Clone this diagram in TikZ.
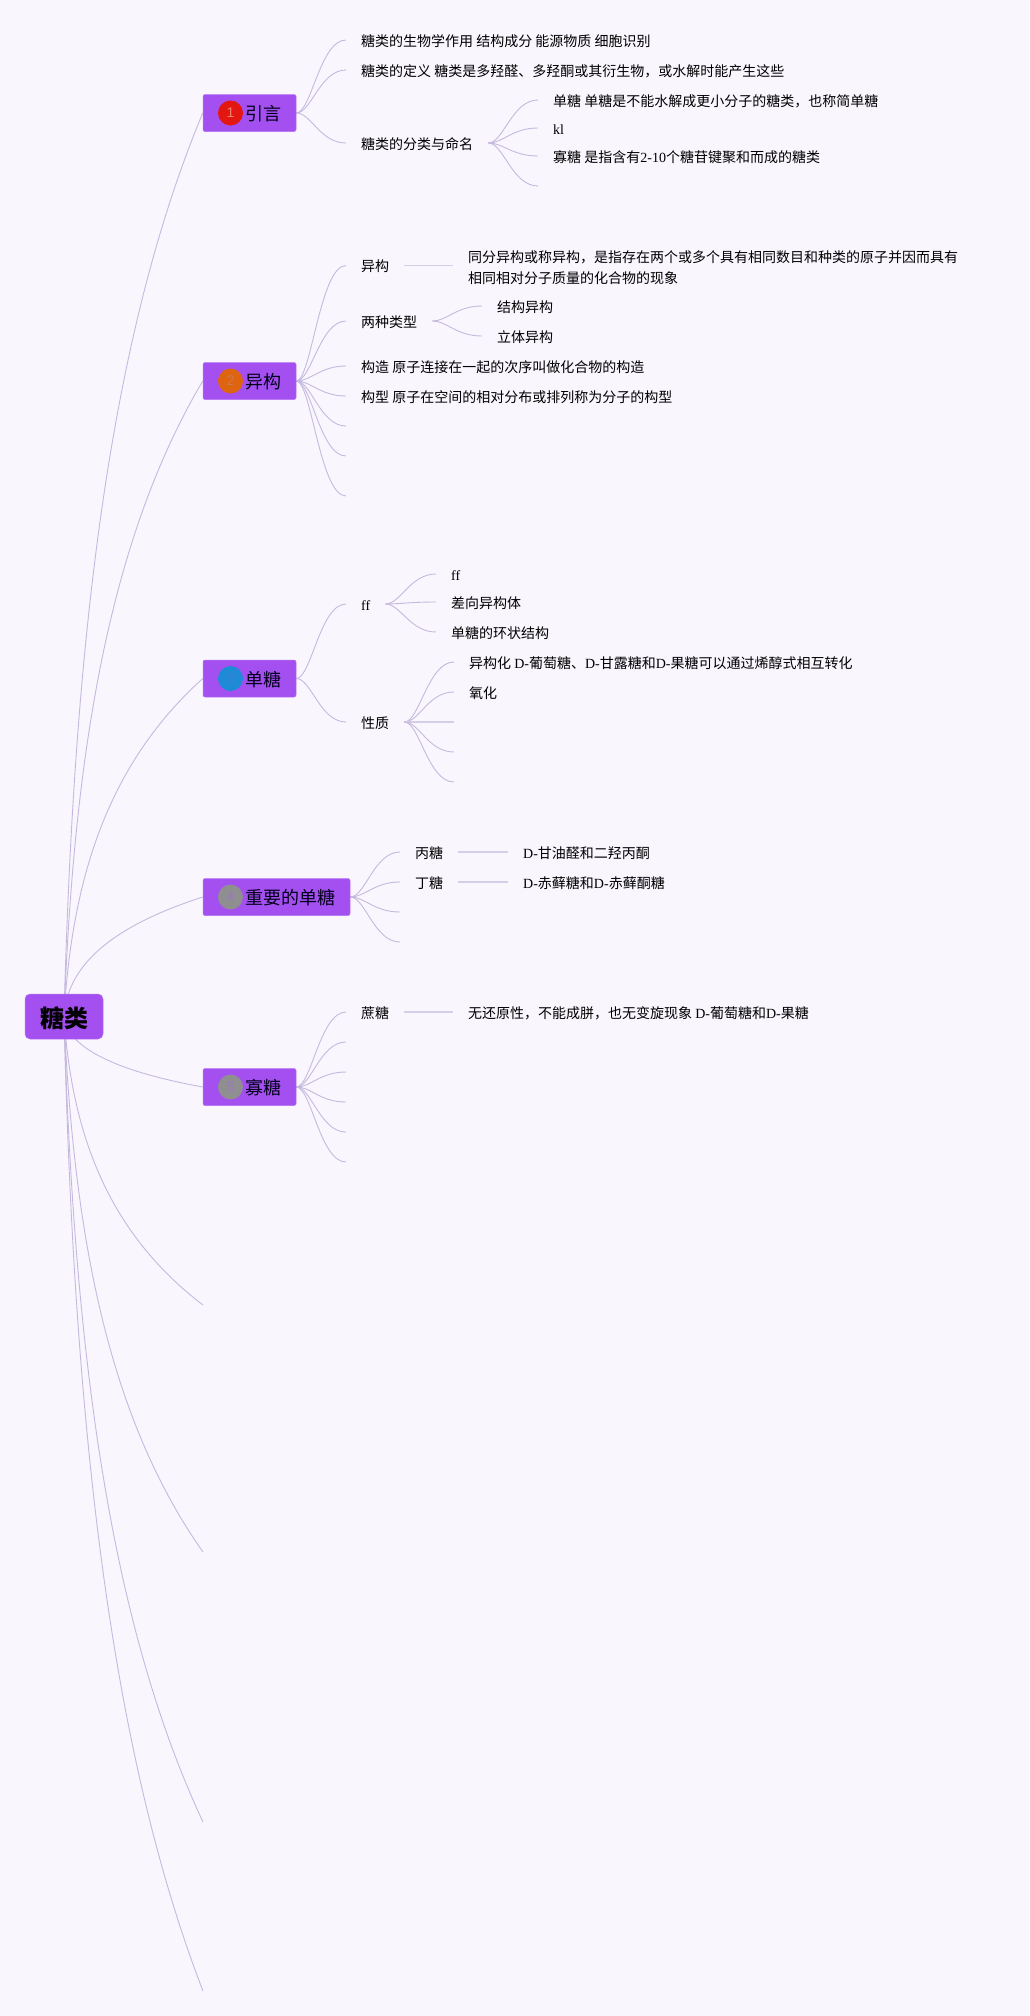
\documentclass[tikz,border=0pt]{standalone}
\usepackage{fontspec}
\setmainfont{Liberation Serif}
\newfontfamily\cjk{Noto Sans CJK SC}
\newfontfamily\digitfont{Liberation Sans}
\usetikzlibrary{backgrounds}
\definecolor{paper}{HTML}{F9F6FE}
\definecolor{violet}{HTML}{A44FF0}
\definecolor{edge}{HTML}{B675F5}
\definecolor{wire}{HTML}{C6B9DE}
\definecolor{stub}{HTML}{D6CEE8}
\definecolor{badgeone}{HTML}{E3170F}
\definecolor{badgetwo}{HTML}{DF6410}
\definecolor{badgethree}{HTML}{1E8BD6}
\definecolor{badgegray}{HTML}{8F8F8F}
\definecolor{digitone}{HTML}{F08070}
\definecolor{digittwo}{HTML}{D0784E}
\definecolor{digitthree}{HTML}{3E7FDC}
\definecolor{digitgray}{HTML}{9B78C4}
\newcommand{\lat}[1]{{\rmfamily #1}}
\tikzset{
  rootbox/.style={rectangle,rounded corners=5pt,fill=violet,draw=edge,line width=.5pt,minimum width=78pt,minimum height=45pt,inner sep=0pt,text height=21pt,text depth=0pt,font=\fontsize{24}{24}\selectfont\cjk\bfseries},
  topicbox/.style={rectangle,rounded corners=2pt,fill=violet,draw=edge,line width=.5pt,minimum height=37pt,inner sep=0pt},
  toptext/.style={anchor=west,inner sep=0pt,text=black!90!blue,font=\fontsize{18}{18}\selectfont\cjk},
  badge/.style={circle,minimum size=25pt,inner sep=0pt,font=\fontsize{14}{14}\selectfont\digitfont},
  leaf/.style={anchor=west,inner xsep=15pt,inner ysep=0pt,text height=12.6pt,text depth=0pt,font=\fontsize{14}{21}\selectfont\cjk},
  para/.style={anchor=west,inner xsep=15pt,inner ysep=0pt,align=left,font=\fontsize{14}{21}\selectfont\cjk},
  limb/.style={draw=wire,line width=.9pt},
  twig/.style={draw=wire,line width=.9pt},
  bar/.style={draw=stub,line width=1.2pt}
}
\begin{document}
\begin{tikzpicture}[x=1pt,y=-1pt]
\useasboundingbox (0,0) rectangle (1029,2016);
\begin{scope}[on background layer]
\fill[paper] (0,0) rectangle (1029,2016);
\end{scope}
% root and topics
\node[rootbox] (root) at (64,1016.5) {糖类};
\node[topicbox,minimum width=93pt] (t1) at (249.5,113) {};
\node[topicbox,minimum width=93pt] (t2) at (249.5,381) {};
\node[topicbox,minimum width=93pt] (t3) at (249.5,678.5) {};
\node[topicbox,minimum width=147pt] (t4) at (276.5,897) {};
\node[topicbox,minimum width=93pt] (t5) at (249.5,1087) {};
\node[badge,fill=badgeone,text=digitone] (b1) at (230.5,113) {1};
\node[badge,fill=badgetwo,text=digittwo] (b2) at (230.5,381) {2};
\node[badge,fill=badgethree,text=digitthree] (b3) at (230.5,678.5) {3};
\node[badge,fill=badgegray,text=digitgray] (b4) at (230.5,897) {4};
\node[badge,fill=badgegray,text=digitgray] (b5) at (230.5,1087) {5};
\node[toptext] (l1) at (245,114) {引言};
\node[toptext] (l2) at (245,382) {异构};
\node[toptext] (l3) at (245,680) {单糖};
\node[toptext] (l4) at (245,898) {重要的单糖};
\node[toptext] (l5) at (245,1088) {寡糖};
% free ends of the root
\coordinate (t6) at (203,1305);
\coordinate (t7) at (203,1552);
\coordinate (t8) at (203,1822);
\coordinate (t9) at (203,1991);

% first topic
\node[leaf] (a1) at (346,40) {糖类的生物学作用 结构成分 能源物质 细胞识别};
\node[leaf] (a2) at (346,70) {糖类的定义 糖类是多羟醛、多羟酮或其衍生物，或水解时能产生这些};
\node[leaf] (a3) at (346,143) {糖类的分类与命名};
\node[leaf] (a31) at (538,100) {单糖 单糖是不能水解成更小分子的糖类，也称简单糖};
\node[leaf] (a32) at (538,128) {\lat{kl}};
\node[leaf] (a33) at (538,156) {寡糖 是指含有\lat{2-10}个糖苷键聚和而成的糖类};
\coordinate (a34) at (538,186);

% second topic
\node[leaf] (c1) at (346,265.5) {异构};
\node[para] (c11) at (453,267.5) {同分异构或称异构，是指存在两个或多个具有相同数目和种类的原子并因而具有\\相同相对分子质量的化合物的现象};
\node[leaf] (c2) at (346,321) {两种类型};
\node[leaf] (c21) at (482,306) {结构异构};
\node[leaf] (c22) at (482,336) {立体异构};
\node[leaf] (c3) at (346,366) {构造 原子连接在一起的次序叫做化合物的构造};
\node[leaf] (c4) at (346,396) {构型 原子在空间的相对分布或排列称为分子的构型};
\coordinate (c5) at (346,426);
\coordinate (c6) at (346,456);
\coordinate (c7) at (346,496);

% third topic
\node[leaf] (d1) at (346,604) {\lat{ff}};
\node[leaf] (d11) at (436,574) {\lat{ff}};
\node[leaf] (d12) at (436,602) {差向异构体};
\node[leaf] (d13) at (436,632) {单糖的环状结构};
\node[leaf] (d2) at (346,722) {性质};
\node[leaf] (d21) at (454,662) {异构化 \lat{D-}葡萄糖、\lat{D-}甘露糖和\lat{D-}果糖可以通过烯醇式相互转化};
\node[leaf] (d22) at (454,692) {氧化};
\coordinate (d23) at (454,722);
\coordinate (d24) at (454,752);
\coordinate (d25) at (454,782);

% fourth topic
\node[leaf] (e1) at (400,852) {丙糖};
\node[leaf] (e11) at (508,852) {\lat{D-}甘油醛和二羟丙酮};
\node[leaf] (e2) at (400,882) {丁糖};
\node[leaf] (e21) at (508,882) {\lat{D-}赤藓糖和\lat{D-}赤藓酮糖};
\coordinate (e3) at (400,912);
\coordinate (e4) at (400,942);

% fifth topic
\node[leaf] (f1) at (346,1012) {蔗糖};
\node[leaf] (f11) at (453,1012) {无还原性，不能成胼，也无变旋现象 \lat{D-}葡萄糖和\lat{D-}果糖};
\coordinate (f2) at (346,1042);
\coordinate (f3) at (346,1072);
\coordinate (f4) at (346,1102);
\coordinate (f5) at (346,1132);
\coordinate (f6) at (346,1162);

\begin{scope}[on background layer]
% from the root
\draw[limb] (root.center) .. controls +(10,-380) and +(-93,223) .. (t1.west);
\draw[limb] (root.center) .. controls +(10,-267) and +(-93,157) .. (t2.west);
\draw[limb] (root.center) .. controls +(8,-142) and +(-93,84) .. (t3.west);
\draw[limb] (root.center) .. controls +(3,-50) and +(-93,30) .. (t4.west);
\draw[limb] (root.center) .. controls +(3,29) and +(-93,-17) .. (t5.west);
\draw[limb] (root.center) .. controls +(8,121) and +(-93,-71) .. (t6);
\draw[limb] (root.center) .. controls +(10,225) and +(-93,-132) .. (t7);
\draw[limb] (root.center) .. controls +(10,338) and +(-93,-199) .. (t8);
\draw[limb] (root.center) .. controls +(10,409) and +(-93,-241) .. (t9);
% first topic
\draw[twig] (t1.east) .. controls +(15,0) and +(-26,0) .. (a1.west);
\draw[twig] (t1.east) .. controls +(15,0) and +(-26,0) .. (a2.west);
\draw[twig] (t1.east) .. controls +(15,0) and +(-26,0) .. (a3.west);
\draw[twig] (a3.east) .. controls +(15,0) and +(-26,0) .. (a31.west);
\draw[twig] (a3.east) .. controls +(15,0) and +(-26,0) .. (a32.west);
\draw[twig] (a3.east) .. controls +(15,0) and +(-26,0) .. (a33.west);
\draw[twig] (a3.east) .. controls +(15,0) and +(-26,0) .. (a34);
% second topic
\draw[twig] (t2.east) .. controls +(15,0) and +(-26,0) .. (c1.west);
\draw[twig] (t2.east) .. controls +(15,0) and +(-26,0) .. (c2.west);
\draw[twig] (t2.east) .. controls +(15,0) and +(-26,0) .. (c3.west);
\draw[twig] (t2.east) .. controls +(15,0) and +(-26,0) .. (c4.west);
\draw[twig] (t2.east) .. controls +(15,0) and +(-26,0) .. (c5);
\draw[twig] (t2.east) .. controls +(15,0) and +(-26,0) .. (c6);
\draw[twig] (t2.east) .. controls +(15,0) and +(-26,0) .. (c7);
\draw[bar] (c1.east) -- (c1.east -| c11.west);
\draw[twig] (c2.east) .. controls +(15,0) and +(-26,0) .. (c21.west);
\draw[twig] (c2.east) .. controls +(15,0) and +(-26,0) .. (c22.west);
% third topic
\draw[twig] (t3.east) .. controls +(15,0) and +(-26,0) .. (d1.west);
\draw[twig] (t3.east) .. controls +(15,0) and +(-26,0) .. (d2.west);
\draw[twig] (d1.east) .. controls +(15,0) and +(-26,0) .. (d11.west);
\draw[twig] (d1.east) .. controls +(15,0) and +(-26,0) .. (d12.west);
\draw[twig] (d1.east) .. controls +(15,0) and +(-26,0) .. (d13.west);
\draw[twig] (d2.east) .. controls +(15,0) and +(-26,0) .. (d21.west);
\draw[twig] (d2.east) .. controls +(15,0) and +(-26,0) .. (d22.west);
\draw[bar] (d2.east) -- (d23);
\draw[twig] (d2.east) .. controls +(15,0) and +(-26,0) .. (d24);
\draw[twig] (d2.east) .. controls +(15,0) and +(-26,0) .. (d25);
% fourth topic
\draw[twig] (t4.east) .. controls +(15,0) and +(-26,0) .. (e1.west);
\draw[twig] (t4.east) .. controls +(15,0) and +(-26,0) .. (e2.west);
\draw[twig] (t4.east) .. controls +(15,0) and +(-26,0) .. (e3);
\draw[twig] (t4.east) .. controls +(15,0) and +(-26,0) .. (e4);
\draw[bar] (e1.east) -- (e11.west);
\draw[bar] (e2.east) -- (e21.west);
% fifth topic
\draw[twig] (t5.east) .. controls +(15,0) and +(-26,0) .. (f1.west);
\draw[twig] (t5.east) .. controls +(15,0) and +(-26,0) .. (f2);
\draw[twig] (t5.east) .. controls +(15,0) and +(-26,0) .. (f3);
\draw[twig] (t5.east) .. controls +(15,0) and +(-26,0) .. (f4);
\draw[twig] (t5.east) .. controls +(15,0) and +(-26,0) .. (f5);
\draw[twig] (t5.east) .. controls +(15,0) and +(-26,0) .. (f6);
\draw[bar] (f1.east) -- (f11.west);
\end{scope}
\end{tikzpicture}
\end{document}
